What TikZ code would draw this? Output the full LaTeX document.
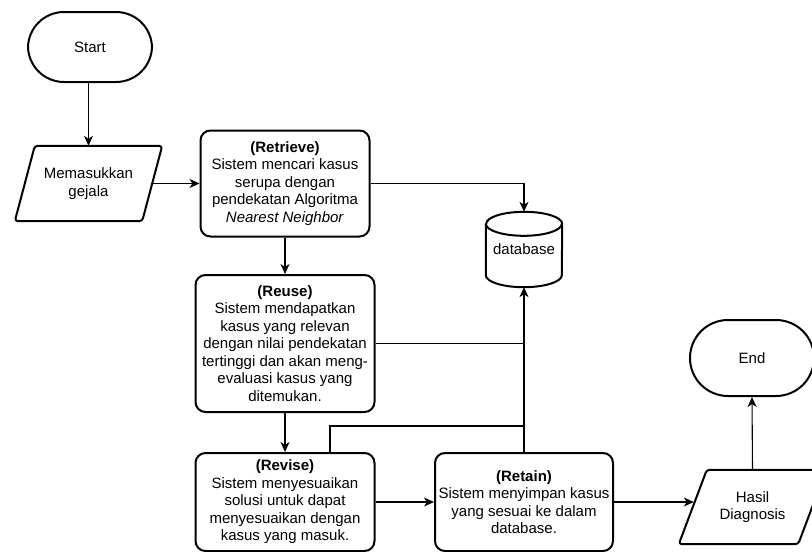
\documentclass[tikz,border=0pt]{standalone}
\usepackage{fontspec}
\setmainfont{Liberation Sans}
\usetikzlibrary{arrows.meta,calc}
\begin{document}
\begin{tikzpicture}[x=1pt,y=-1pt,
  txt/.style={font=\fontsize{15}{17.5}\selectfont, align=center, inner sep=0pt},
  outline/.style={line width=2pt, line join=round},
  proc/.style={txt, draw, outline, rounded corners=10pt},
  term/.style={txt, draw, outline, rounded corners=#1},
  conn/.style={line width=1.1pt, -{Stealth[length=10pt,width=9pt,inset=3pt]}},
  link/.style={line width=1.1pt},
]
\fill[white] (0,0) rectangle (812,552);
\useasboundingbox (0,0) rectangle (812,552);

% terminals
\node[term=36pt, minimum width=124pt, minimum height=70pt] (start) at (90,47) {Start};
\node[term=38pt, minimum width=124pt, minimum height=76pt] (end) at (752,358) {End};

% input / output parallelograms
\node[txt, minimum width=147pt, minimum height=75pt] (in) at (88.5,183.5) {Memasukkan\\gejala};
\draw[outline, rounded corners=3pt] ($(in.north west)+(20,0)$) -- (in.north east)
  -- ($(in.south east)+(-20,0)$) -- (in.south west) -- cycle;
\node[txt, minimum width=147pt, minimum height=74pt] (out) at (752.5,507) {Hasil\\Diagnosis};
\draw[outline, rounded corners=3pt] ($(out.north west)+(28,0)$) -- (out.north east)
  -- ($(out.south east)+(-28,0)$) -- (out.south west) -- cycle;

% process steps
\node[proc, minimum width=169pt, minimum height=106pt] (retrieve) at (285,183.5)
  {\textbf{(Retrieve)}\\Sistem mencari kasus\\serupa dengan\\pendekatan Algoritma\\\textit{Nearest Neighbor}};
\node[proc, minimum width=179pt, minimum height=137pt] (reuse) at (285,343.5)
  {\textbf{(Reuse)}\\Sistem mendapatkan\\kasus yang relevan\\dengan nilai pendekatan\\tertinggi dan akan meng-\\evaluasi kasus yang\\ditemukan.};
\node[proc, minimum width=179pt, minimum height=98pt] (revise) at (285,502)
  {\textbf{(Revise)}\\Sistem menyesuaikan\\solusi untuk dapat\\menyesuaikan dengan\\kasus yang masuk.};
\node[proc, minimum width=178pt, minimum height=98pt] (retain) at (524,502)
  {\textbf{(Retain)}\\Sistem menyimpan kasus\\yang sesuai ke dalam\\database.};

% database cylinder
\node[txt, minimum width=76pt, minimum height=75pt] (db) at (524,249.5) {database};
\draw[outline] ($(db.north west)+(0,12)$) -- ($(db.south west)+(0,-12)$)
  arc[start angle=180, end angle=360, x radius=38pt, y radius=12pt]
  -- ($(db.north east)+(0,12)$)
  arc[start angle=0, end angle=180, x radius=38pt, y radius=12pt];
\draw[outline] ($(db.north west)+(0,12)$)
  arc[start angle=180, end angle=360, x radius=38pt, y radius=12pt];

% connectors
\coordinate (inr) at ($(in.east)+(-10,0)$);
\coordinate (outl) at ($(out.west)+(15,0)$);
\path (retain.north) ++(0,-26) coordinate (mg);
\coordinate (rvt) at ($(revise.north)+(45,0)$);

\draw[conn] (start.south -| in.north) -- (in.north);
\draw[conn] (inr) -- (retrieve.west);
\draw[conn] (retrieve.east) -| (db.north);
\draw[conn] (retrieve.south) -- (reuse.north);
\draw[conn] (reuse.south) -- (revise.north);
\draw[conn] (revise.east) -- (retain.west);
\draw[conn] (retain.north) -- (db.south);
\draw[link] (reuse.east) -- (reuse.east -| db.south);
\draw[link] (rvt) |- (mg);
\draw[conn] (retain.east) -- (retain.east -| outl);
\draw[conn] (out.north) -- (end.south);
\end{tikzpicture}
\end{document}
